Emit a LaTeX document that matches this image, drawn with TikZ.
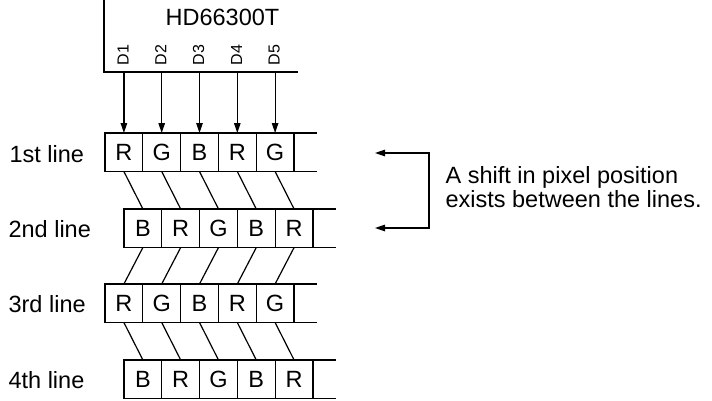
\documentclass[tikz,border=0pt]{standalone}
\usepackage{fontspec}
\setmainfont{Liberation Sans}
\usetikzlibrary{arrows.meta}
\begin{document}
\begin{tikzpicture}[x=1pt,y=-1pt,
  line width=1.2pt,
  txt/.style={font=\fontsize{23.5}{28}\selectfont},
  cell/.style={txt, draw, minimum width=37.8pt, minimum height=38.5pt,
    inner sep=0pt, outer sep=0pt, anchor=north west},
  lbl/.style={txt, anchor=base west, inner sep=0pt},
  pinlbl/.style={rotate=90, inner sep=0pt, font=\fontsize{16}{19}\selectfont},
  feed/.style={-{Triangle[length=10pt,width=6.5pt]}},
]
\useasboundingbox (0,0) rectangle (712,400);

% driver chip outline and its name
\coordinate (chipT) at (104,0);
\coordinate (chipC) at (104,72);
\coordinate (chipR) at (298,72);
\draw (chipT) -- (chipC) -- (chipR);
\node[txt, anchor=base, inner sep=0pt] (chip) at (222.5,25) {HD66300T};

% four rows of colour cells
\foreach \r/\x/\y/\letters in {1/105/133/{R,G,B,R,G}, 2/124/209/{B,R,G,B,R},
                               3/105/284/{R,G,B,R,G}, 4/124/360/{B,R,G,B,R}}{
  \foreach \l [count=\i] in \letters {
    \node[cell] (r\r c\i) at ({\x+(\i-1)*37.8},\y) {\l};
  }
  \coordinate (e\r t) at ({\x+5*37.8+23},\y);
  \coordinate (e\r b) at ({\x+5*37.8+23},\y+38.5);
  \draw (r\r c5.north east) -- (e\r t);
  \draw (r\r c5.south east) -- (e\r b);
}

% row labels
\node[lbl] (l1) at (9,162) {1st line};
\node[lbl] (l2) at (8,237) {2nd line};
\node[lbl] (l3) at (8,312) {3rd line};
\node[lbl] (l4) at (8,388) {4th line};

% data outputs D1..D5 feeding the first row
\foreach \i in {1,...,5}{
  \coordinate (o\i) at ({105+(\i-0.5)*37.8},72);
  \node[pinlbl] (p\i) at ({105+(\i-0.5)*37.8-0.8},55) {D\i};
  \draw[feed] (o\i) -- (r1c\i.north);
}

% links between consecutive rows
\foreach \r in {1,2,3}{
  \pgfmathtruncatemacro{\nx}{\r+1}
  \foreach \i in {1,...,5}{
    \draw (r\r c\i.south) -- (r\nx c\i.north);
  }
}

% bracket with arrows pointing at rows 1 and 2
\coordinate (t1) at (375,153);
\coordinate (b1) at (429,153);
\coordinate (b2) at (429,228);
\coordinate (t2) at (375,228);
\draw[{Triangle[length=10pt,width=6.5pt]}-{Triangle[length=10pt,width=6.5pt]}]
  (t1) -- (b1) -- (b2) -- (t2);

\node[lbl] (note1) at (445,183) {A shift in pixel position};
\node[lbl] (note2) at (445,207.5) {exists between the lines.};
\end{tikzpicture}
\end{document}
